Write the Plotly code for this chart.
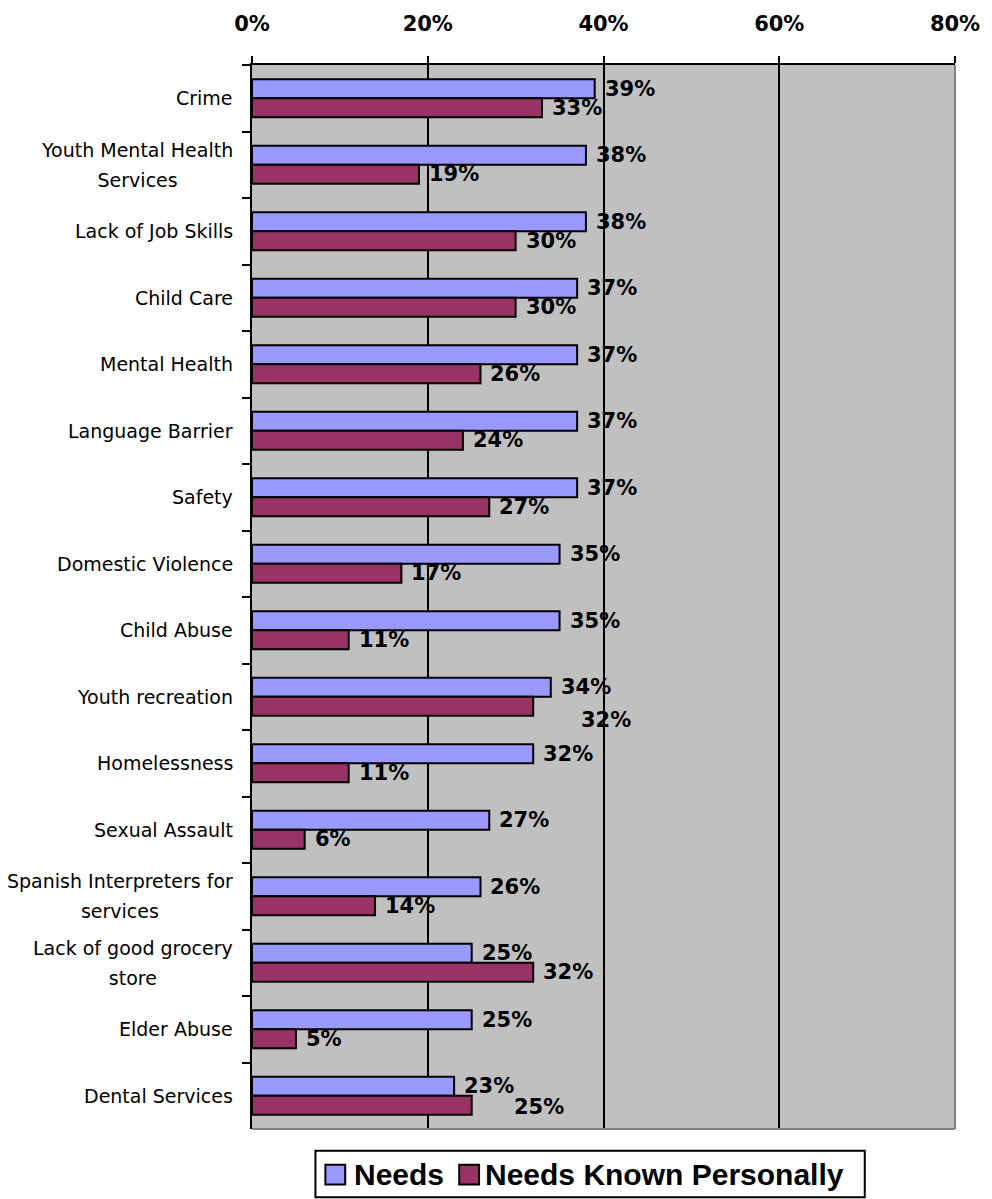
import plotly.graph_objects as go

# ---- data -------------------------------------------------------------
categories = [
    "Crime",
    "Youth Mental Health<br>Services",
    "Lack of Job Skills",
    "Child Care",
    "Mental Health",
    "Language Barrier",
    "Safety",
    "Domestic Violence",
    "Child Abuse",
    "Youth recreation",
    "Homelessness",
    "Sexual Assault",
    "Spanish Interpreters for<br>services",
    "Lack of good grocery<br>store",
    "Elder Abuse",
    "Dental Services",
]
needs = [39, 38, 38, 37, 37, 37, 37, 35, 35, 34, 32, 27, 26, 25, 25, 23]
needs_known = [33, 19, 30, 30, 26, 24, 27, 17, 11, 32, 11, 6, 14, 32, 5, 25]
x_tick_values = [0, 20, 40, 60, 80]
x_tick_labels = ["0%", "20%", "40%", "60%", "80%"]
series_names = ["Needs", "Needs Known Personally"]

# ---- styling / geometry ------------------------------------------------
COLOR_NEEDS = "#9999FF"
COLOR_KNOWN = "#993366"
PLOT_BG = "#C0C0C0"
EDGE_GRAY = "#808080"
W, H = 992, 1199
ML, MR, MT, MB = 252, 31, 54, 70
PW, PH = W - ML - MR, H - MT - MB
BARGAP = 0.43
HALF_BAR = (1 - BARGAP) / 4  # offset of each bar centre from the category centre

LABEL_FONT = dict(family="DejaVu Sans", size=21, color="black", weight="bold")
CAT_FONT = dict(family="DejaVu Sans", size=23, color="black")
LEGEND_FONT = dict(family="Liberation Sans", size=30, color="black", weight="bold")

# extra nudges (px) for value labels that sit away from their bar end
known_label_nudge = {9: (38, -14), 15: (32, -2)}


def paper_x(px):
    return (px - ML) / PW


def paper_y(py):
    return (MT + PH - py) / PH


fig = go.Figure()
fig.add_trace(go.Bar(
    y=categories, x=needs, orientation="h", name=series_names[0],
    marker=dict(color=COLOR_NEEDS, line=dict(color="black", width=2)),
))
fig.add_trace(go.Bar(
    y=categories, x=needs_known, orientation="h", name=series_names[1],
    marker=dict(color=COLOR_KNOWN, line=dict(color="black", width=2)),
))

annotations = []

# value labels
for i, (a, b) in enumerate(zip(needs, needs_known)):
    annotations.append(dict(
        x=a, y=i - HALF_BAR, xref="x", yref="y", text=f"{a}%",
        showarrow=False, xanchor="left", yanchor="middle", xshift=8,
        font=LABEL_FONT,
    ))
    dx, dy = known_label_nudge.get(i, (0, 0))
    annotations.append(dict(
        x=b, y=i + HALF_BAR, xref="x", yref="y", text=f"{b}%",
        showarrow=False, xanchor="left", yanchor="middle", xshift=8 + dx,
        yshift=dy, font=LABEL_FONT,
    ))

# category labels (centred multi-line text, right-aligned against the axis)
for i, name in enumerate(categories):
    lines = name.split("<br>")
    text = "<br>".join(f"<span style='font-size:19px'>{ln}</span>" for ln in lines)
    annotations.append(dict(
        x=0, y=i, xref="paper", yref="y", text=text, showarrow=False,
        xanchor="right", yanchor="middle", align="center", xshift=-17,
        font=CAT_FONT,
    ))

# legend
legend_items = [
    (series_names[0], COLOR_NEEDS, 326, 353),
    (series_names[1], COLOR_KNOWN, 461, 485),
]
shapes = [
    dict(type="rect", xref="paper", yref="paper",
         x0=paper_x(316), x1=paper_x(870), y0=paper_y(1151), y1=paper_y(1198),
         line=dict(color="black", width=2), fillcolor="white", layer="above"),
]
for label, color, sq_x, tx in legend_items:
    shapes.append(dict(
        type="rect", xref="paper", yref="paper",
        x0=paper_x(sq_x), x1=paper_x(sq_x + 20),
        y0=paper_y(1165), y1=paper_y(1185),
        line=dict(color="black", width=2), fillcolor=color, layer="above",
    ))
    annotations.append(dict(
        x=paper_x(tx), y=paper_y(1175), xref="paper", yref="paper", text=label,
        showarrow=False, xanchor="left", yanchor="middle", font=LEGEND_FONT,
    ))

# gray right and bottom edges of the plot area
shapes.append(dict(type="line", xref="paper", yref="paper", x0=1, x1=1, y0=0, y1=1,
                   line=dict(color=EDGE_GRAY, width=2), layer="above"))
shapes.append(dict(type="line", xref="paper", yref="paper", x0=0, x1=1, y0=0, y1=0,
                   line=dict(color=EDGE_GRAY, width=2), layer="above"))

fig.update_layout(
    width=W, height=H,
    margin=dict(l=ML, r=MR, t=MT, b=MB, pad=0),
    paper_bgcolor="white", plot_bgcolor=PLOT_BG,
    barmode="group", bargap=BARGAP, bargroupgap=0,
    showlegend=False,
    annotations=annotations, shapes=shapes,
    xaxis=dict(
        side="top", range=[0, 80], tickvals=x_tick_values, ticktext=x_tick_labels,
        showgrid=True, gridcolor="black", gridwidth=2, zeroline=False,
        showline=True, linecolor="black", linewidth=2,
        ticks="outside", ticklen=7, tickwidth=2, tickcolor="black",
        tickfont=LABEL_FONT, ticklabelstandoff=17,
    ),
    yaxis=dict(
        type="category", range=[len(categories) - 0.5, -0.5],
        showticklabels=False, showgrid=False, zeroline=False,
        showline=True, linecolor="black", linewidth=2,
        ticks="outside", tickson="boundaries", ticklen=8, tickwidth=2,
        tickcolor="black",
    ),
)

fig.write_html("out.html")
